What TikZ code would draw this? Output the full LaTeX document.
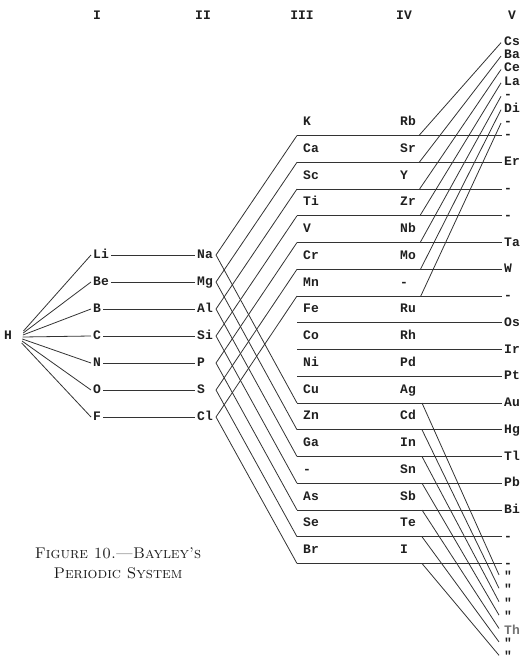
\documentclass[tikz,border=0pt]{standalone}
\usepackage{fontspec}
\newfontfamily\elfam{Liberation Mono}
\newcommand\elf{\elfam\bfseries\fontsize{13}{14}\selectfont}
\begin{document}
\begin{tikzpicture}[x=1pt,y=-1pt,
  el/.style={font=\elf, inner sep=2pt, anchor=west, text=black!88, text height=7pt, text depth=0pt},
  hd/.style={font=\elf, inner sep=0pt, text=black!88},
  ln/.style={line width=0.8pt, draw=black!80},
  capt/.style={font=\rmfamily\fontsize{15.5}{20}\selectfont, align=center, text=black!90}]
\useasboundingbox (0,0) rectangle (530,663);
% headings
\node[hd] (hI) at (97,15) {I};
\node[hd] (hII) at (203,15) {II};
\node[hd] (hIII) at (302,15) {III};
\node[hd] (hIV) at (404,15) {IV};
\node[hd] (hV) at (512,15) {V};
% hydrogen
\node[el] (H) at (2,336) {H};
% group I and II
\foreach \n [count=\k from 0] in {Li,Be,B,C,N,O,F}
  \node[el] (g1-\k) at (91,255+27*\k) {\n};
\foreach \n [count=\k from 0] in {Na,Mg,Al,Si,P,S,Cl}
  \node[el] (g2-\k) at (195,255+27*\k) {\n};
\foreach \k in {0,...,6} {
  \coordinate (hs-\k) at (23.5-0.3*\k,331+2*\k);
  \coordinate (v2-\k) at (216,255+27*\k);
  \draw[ln] (hs-\k) -- (g1-\k.west);
  \draw[ln] (g1-\k.east) -- (g2-\k.west);
}
% groups III and IV
\foreach \n [count=\k from 0] in {K,Ca,Sc,Ti,V,Cr,Mn,Fe,Co,Ni,Cu,Zn,Ga,-,As,Se,Br}
  \node[el] (g3-\k) at (301,122+26.75*\k) {\n};
\foreach \n [count=\k from 0] in {Rb,Sr,Y,Zr,Nb,Mo,-,Ru,Rh,Pd,Ag,Cd,In,Sn,Sb,Te,I}
  \node[el] (g4-\k) at (398,122+26.75*\k) {\n};
% group V on the lines
\foreach \n [count=\k from 0] in {-,Er,-,-,Ta,W,-,Os,Ir,Pt,Au,Hg,Tl,Pb,Bi,-,-}
  \node[el] (vl-\k) at (502,135.5+26.75*\k) {\n};
% group V top
\foreach \n [count=\k from 0] in {Cs,Ba,Ce,La,-,Di,-}
  \node[el] (vt-\k) at (502,135.5-13.4*7+13.4*\k) {\n};
% group V bottom
\foreach \n/\c [count=\k from 0] in {"/black!88,"/black!88,"/black!88,"/black!88,Th/black!55,"/black!88,"/black!88}
  \node[el, text=\c] (vb-\k) at (502,563.5+13.4+13.4*\k) {\n};
% horizontal lines
\foreach \k in {0,...,16} {
  \coordinate (l3-\k) at (297,135.5+26.75*\k);
  \draw[ln] (l3-\k) -- (vl-\k.west);
}
% II -> III connectors
\foreach \k in {0,...,6} {
  \pgfmathtruncatemacro\m{\k+10}
  \draw[ln] (l3-\k) -- (v2-\k) -- (l3-\m);
}
% IV -> V upward connectors
\foreach \k in {0,...,6} {
  \coordinate (u-\k) at (419+0.3*\k,135.5+26.75*\k);
  \draw[ln] (u-\k) -- ([shift={(-1,1)}]vt-\k.west);
}
% IV -> V downward connectors
\foreach \k in {0,...,6} {
  \pgfmathtruncatemacro\m{\k+10}
  \coordinate (d-\k) at (422,135.5+26.75*\m);
  \draw[ln] (d-\k) -- ([shift={(-3,-2)}]vb-\k.west);
}
% caption
\node[capt] (cap) at (118,563) {\textsc{Figure 10.---Bayley's}\\\textsc{Periodic System}};
\end{tikzpicture}
\end{document}
